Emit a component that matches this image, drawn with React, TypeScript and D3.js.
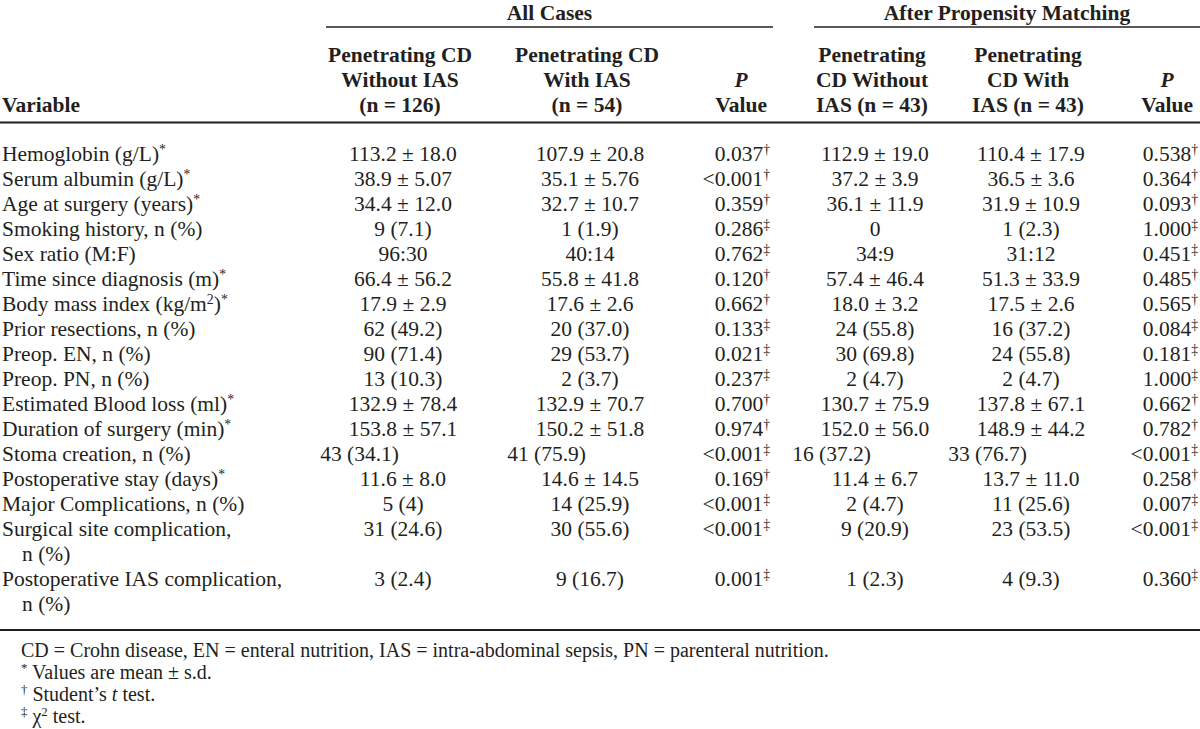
import React from "react";
import * as d3 from "d3";

// ---------- data ----------
const groupTitles = ["All Cases", "After Propensity Matching"];

const columnHeaders = [
  ["Penetrating CD", "Without IAS", "(n = 126)"],
  ["Penetrating CD", "With IAS", "(n = 54)"],
  ["Penetrating", "CD Without", "IAS (n = 43)"],
  ["Penetrating", "CD With", "IAS (n = 43)"],
];

// {x} = superscript, [x] = italic, | = line break
const variableLabels = [
  "Hemoglobin (g/L){*}",
  "Serum albumin (g/L){*}",
  "Age at surgery (years){*}",
  "Smoking history, n (%)",
  "Sex ratio (M:F)",
  "Time since diagnosis (m){*}",
  "Body mass index (kg/m{2}){*}",
  "Prior resections, n (%)",
  "Preop. EN, n (%)",
  "Preop. PN, n (%)",
  "Estimated Blood loss (ml){*}",
  "Duration of surgery (min){*}",
  "Stoma creation, n (%)",
  "Postoperative stay (days){*}",
  "Major Complications, n (%)",
  "Surgical site complication,|n (%)",
  "Postoperative IAS complication,|n (%)",
];

const allWithout = ["113.2 ± 18.0", "38.9 ± 5.07", "34.4 ± 12.0", "9 (7.1)", "96:30", "66.4 ± 56.2", "17.9 ± 2.9", "62 (49.2)", "90 (71.4)", "13 (10.3)", "132.9 ± 78.4", "153.8 ± 57.1", "43 (34.1)", "11.6 ± 8.0", "5 (4)", "31 (24.6)", "3 (2.4)"];
const allWith = ["107.9 ± 20.8", "35.1 ± 5.76", "32.7 ± 10.7", "1 (1.9)", "40:14", "55.8 ± 41.8", "17.6 ± 2.6", "20 (37.0)", "29 (53.7)", "2 (3.7)", "132.9 ± 70.7", "150.2 ± 51.8", "41 (75.9)", "14.6 ± 14.5", "14 (25.9)", "30 (55.6)", "9 (16.7)"];
const allP = ["0.037", "<0.001", "0.359", "0.286", "0.762", "0.120", "0.662", "0.133", "0.021", "0.237", "0.700", "0.974", "<0.001", "0.169", "<0.001", "<0.001", "0.001"];
const allTest = ["†", "†", "†", "‡", "‡", "†", "†", "‡", "‡", "‡", "†", "†", "‡", "†", "‡", "‡", "‡"];

const matchedWithout = ["112.9 ± 19.0", "37.2 ± 3.9", "36.1 ± 11.9", "0", "34:9", "57.4 ± 46.4", "18.0 ± 3.2", "24 (55.8)", "30 (69.8)", "2 (4.7)", "130.7 ± 75.9", "152.0 ± 56.0", "16 (37.2)", "11.4 ± 6.7", "2 (4.7)", "9 (20.9)", "1 (2.3)"];
const matchedWith = ["110.4 ± 17.9", "36.5 ± 3.6", "31.9 ± 10.9", "1 (2.3)", "31:12", "51.3 ± 33.9", "17.5 ± 2.6", "16 (37.2)", "24 (55.8)", "2 (4.7)", "137.8 ± 67.1", "148.9 ± 44.2", "33 (76.7)", "13.7 ± 11.0", "11 (25.6)", "23 (53.5)", "4 (9.3)"];
const matchedP = ["0.538", "0.364", "0.093", "1.000", "0.451", "0.485", "0.565", "0.084", "0.181", "1.000", "0.662", "0.782", "<0.001", "0.258", "0.007", "<0.001", "0.360"];
const matchedTest = ["†", "†", "†", "‡", "‡", "†", "†", "‡", "‡", "‡", "†", "†", "‡", "†", "‡", "‡", "‡"];

const footnotes = [
  "CD = Crohn disease, EN = enteral nutrition, IAS = intra-abdominal sepsis, PN = parenteral nutrition.",
  "{*} Values are mean ± s.d.",
  "{†} Student’s [t] test.",
  "{‡} χ{2} test.",
];

// ---------- styling / layout ----------
const W = 1200;
const H = 729;
const FONT = "'Liberation Serif', 'Times New Roman', Times, serif";
const INK = "#231f20";
const FS = 21.5;
const FN_FS = 20;
const SUP_RATIO = 0.64;
const SUP_SHIFT = 0.33;

type Seg = { t: string; sup?: boolean; it?: boolean };
function parse(s: string): Seg[] {
  const out: Seg[] = [];
  let buf = "";
  let mode: "n" | "sup" | "it" = "n";
  const flush = () => {
    if (buf) out.push({ t: buf, sup: mode === "sup", it: mode === "it" });
    buf = "";
  };
  for (const ch of s) {
    if (ch === "{") { flush(); mode = "sup"; }
    else if (ch === "}") { flush(); mode = "n"; }
    else if (ch === "[") { flush(); mode = "it"; }
    else if (ch === "]") { flush(); mode = "n"; }
    else buf += ch;
  }
  flush();
  return out;
}

function Rich({ x, y, text, size, anchor = "start", weight = "normal" }: { x: number; y: number; text: string; size: number; anchor?: string; weight?: string }) {
  const segs = parse(text);
  const shift = size * SUP_SHIFT;
  let raised = false;
  return (
    <text x={x} y={y} textAnchor={anchor} fontSize={size} fontWeight={weight} fontFamily={FONT} fill={INK} style={{ whiteSpace: "pre" }}>
      {segs.map((s, i) => {
        let dy = 0;
        if (s.sup && !raised) { dy = -shift; raised = true; }
        else if (!s.sup && raised) { dy = shift; raised = false; }
        return (
          <tspan key={i} dy={dy || undefined} fontSize={s.sup ? size * SUP_RATIO : undefined} fontStyle={s.it ? "italic" : undefined}>
            {s.t}
          </tspan>
        );
      })}
    </text>
  );
}

export default function App() {
  // line index -> baseline
  const lineY = d3.scaleLinear().domain([0, 1]).range([161, 186]);
  const footY = d3.scaleLinear().domain([0, 1]).range([657, 679]);
  const headY = d3.scaleLinear().domain([0, 1]).range([62, 87]);

  // column positions
  const colX = d3.scaleOrdinal<string, number>()
    .domain(["label", "allWithout", "allWith", "allP", "matchedWithout", "matchedWith", "matchedP"])
    .range([2, 403, 590, 770, 875, 1031, 1198]);
  const centerCols = ["allWithout", "allWith", "matchedWithout", "matchedWith"];
  const pCols = ["allP", "matchedP"];
  const headerShift = -3;
  const pHeaderRight = [767, 1193];
  const valueHalf = 26;

  const groupSpans = [
    { x0: 326, x1: 773 },
    { x0: 814, x1: 1200 },
  ];

  const valueCols = [allWithout, allWith, matchedWithout, matchedWith];
  const pVals = [allP, matchedP];
  const pTests = [allTest, matchedTest];
  const rightAlignedRows = new Set(["Stoma creation, n (%)"]);

  let line = 0;
  const rows = variableLabels.map((lab, i) => {
    const parts = lab.split("|");
    const r = { i, parts, line };
    line += parts.length;
    return r;
  });

  return (
    <div style={{ position: "absolute", left: 0, top: 0 }}>
      <svg width={W} height={H} viewBox={`0 0 ${W} ${H}`} style={{ display: "block", background: "#fff" }}>
        {/* group titles */}
        {groupTitles.map((g, gi) => (
          <g key={g}>
            <text x={(groupSpans[gi].x0 + groupSpans[gi].x1) / 2} y={20} textAnchor="middle" fontSize={FS} fontWeight="bold" fontFamily={FONT} fill={INK}>
              {g}
            </text>
            <line x1={groupSpans[gi].x0} x2={groupSpans[gi].x1} y1={27} y2={27} stroke={INK} strokeWidth={1.6} />
          </g>
        ))}

        {/* column headers */}
        <text x={colX("label")} y={headY(2)} fontSize={FS} fontWeight="bold" fontFamily={FONT} fill={INK}>Variable</text>
        {centerCols.map((c, ci) =>
          columnHeaders[ci].map((t, li) => (
            <text key={c + li} x={colX(c) + headerShift} y={headY(li)} textAnchor="middle" fontSize={FS} fontWeight="bold" fontFamily={FONT} fill={INK} style={{ whiteSpace: "pre" }}>
              {t}
            </text>
          ))
        )}
        {pHeaderRight.map((xr, k) => (
          <g key={"ph" + k}>
            <text x={xr - valueHalf} y={headY(1)} textAnchor="middle" fontSize={FS} fontWeight="bold" fontStyle="italic" fontFamily={FONT} fill={INK}>P</text>
            <text x={xr} y={headY(2)} textAnchor="end" fontSize={FS} fontWeight="bold" fontFamily={FONT} fill={INK}>Value</text>
          </g>
        ))}
        <line x1={0} x2={W} y1={122.5} y2={122.5} stroke={INK} strokeWidth={2} />

        {/* body */}
        {rows.map((r) => (
          <g key={r.i}>
            {r.parts.map((p, k) => (
              <Rich key={k} x={colX("label") + (k > 0 ? 20 : 0)} y={lineY(r.line + k)} text={p} size={FS} />
            ))}
            {centerCols.map((c, ci) => {
              const special = rightAlignedRows.has(variableLabels[r.i]);
              return (
                <Rich key={c} x={special ? colX(c) - 4 : colX(c)} y={lineY(r.line)} text={valueCols[ci][r.i]} size={FS} anchor={special ? "end" : "middle"} />
              );
            })}
            {pCols.map((c, k) => (
              <Rich key={c} x={colX(c)} y={lineY(r.line)} text={`${pVals[k][r.i]}{${pTests[k][r.i]}}`} size={FS} anchor="end" />
            ))}
          </g>
        ))}
        <line x1={0} x2={W} y1={630} y2={630} stroke={INK} strokeWidth={2} />

        {/* footnotes */}
        {footnotes.map((f, i) => (
          <Rich key={i} x={21} y={footY(i)} text={f} size={FN_FS} />
        ))}
      </svg>
    </div>
  );
}
